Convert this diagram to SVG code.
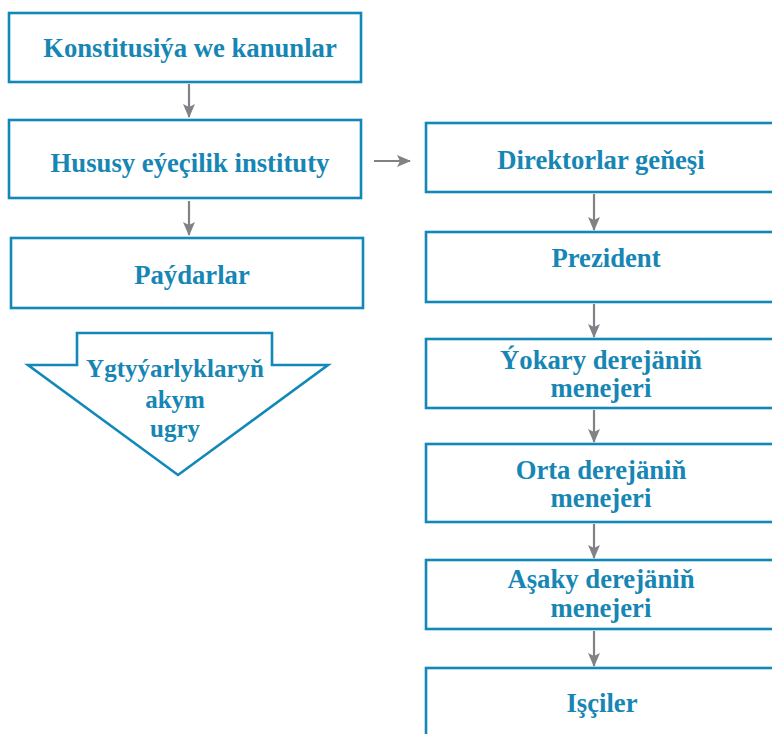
<svg xmlns="http://www.w3.org/2000/svg" width="772" height="734" viewBox="0 0 772 734">
<defs>
<style>
.box{fill:#fff;stroke:#1188b8;stroke-width:2.6}
.t{font-family:"Liberation Serif","Times New Roman",serif;font-weight:bold;font-size:26.7px;fill:#1686b4;text-anchor:middle}
.a{font-size:25px}
.c{stroke:#808285;stroke-width:2.2;fill:none}
</style>
<marker id="ah" viewBox="0 0 14 12" refX="13" refY="6" markerWidth="14" markerHeight="12" markerUnits="userSpaceOnUse" orient="auto">
<path d="M0,0 L14,6 L0,12 L3,6 Z" fill="#808285"/>
</marker>
</defs>
<rect width="772" height="734" fill="#fff"/>
<g id="connectors">
<line class="c" x1="189" y1="84" x2="189" y2="117" marker-end="url(#ah)"/>
<line class="c" x1="189" y1="201" x2="189" y2="235" marker-end="url(#ah)"/>
<line class="c" x1="374" y1="161" x2="410" y2="161" marker-end="url(#ah)"/>
<line class="c" x1="594" y1="194" x2="594" y2="230" marker-end="url(#ah)"/>
<line class="c" x1="594" y1="304" x2="594" y2="337" marker-end="url(#ah)"/>
<line class="c" x1="594" y1="410" x2="594" y2="442" marker-end="url(#ah)"/>
<line class="c" x1="594" y1="524" x2="594" y2="558" marker-end="url(#ah)"/>
<line class="c" x1="594" y1="631" x2="594" y2="666" marker-end="url(#ah)"/>
</g>
<g id="n1"><rect class="box" x="9" y="13" width="352" height="69"/><text class="t" x="190" y="57">Konstitusiýa we kanunlar</text></g>
<g id="n2"><rect class="box" x="9" y="120" width="352" height="78"/><text class="t" x="190" y="172">Hususy eýeçilik instituty</text></g>
<g id="n3"><rect class="box" x="11" y="238" width="352" height="70"/><text class="t" x="192" y="284">Paýdarlar</text></g>
<g id="n4"><path class="box" d="M77,333 L272,333 L272,365 L328,365 L178,475 L28,365 L77,365 Z"/>
<text class="t a" x="175" y="377">Ygtyýarlyklaryň</text><text class="t a" x="175" y="408">akym</text><text class="t a" x="175" y="437">ugry</text></g>
<g id="r1"><rect class="box" x="426" y="123" width="360" height="69"/><text class="t" x="601" y="169">Direktorlar geňeşi</text></g>
<g id="r2"><rect class="box" x="426" y="232" width="360" height="70"/><text class="t" x="606" y="267">Prezident</text></g>
<g id="r3"><rect class="box" x="426" y="339" width="360" height="69"/><text class="t" x="601" y="369">Ýokary derejäniň</text><text class="t" x="601" y="397">menejeri</text></g>
<g id="r4"><rect class="box" x="426" y="444" width="360" height="78"/><text class="t" x="601" y="479">Orta derejäniň</text><text class="t" x="601" y="507">menejeri</text></g>
<g id="r5"><rect class="box" x="426" y="560" width="360" height="69"/><text class="t" x="601" y="588">Aşaky derejäniň</text><text class="t" x="601" y="617">menejeri</text></g>
<g id="r6"><rect class="box" x="426" y="668" width="360" height="90"/><text class="t" x="602" y="712">Işçiler</text></g>
</svg>
